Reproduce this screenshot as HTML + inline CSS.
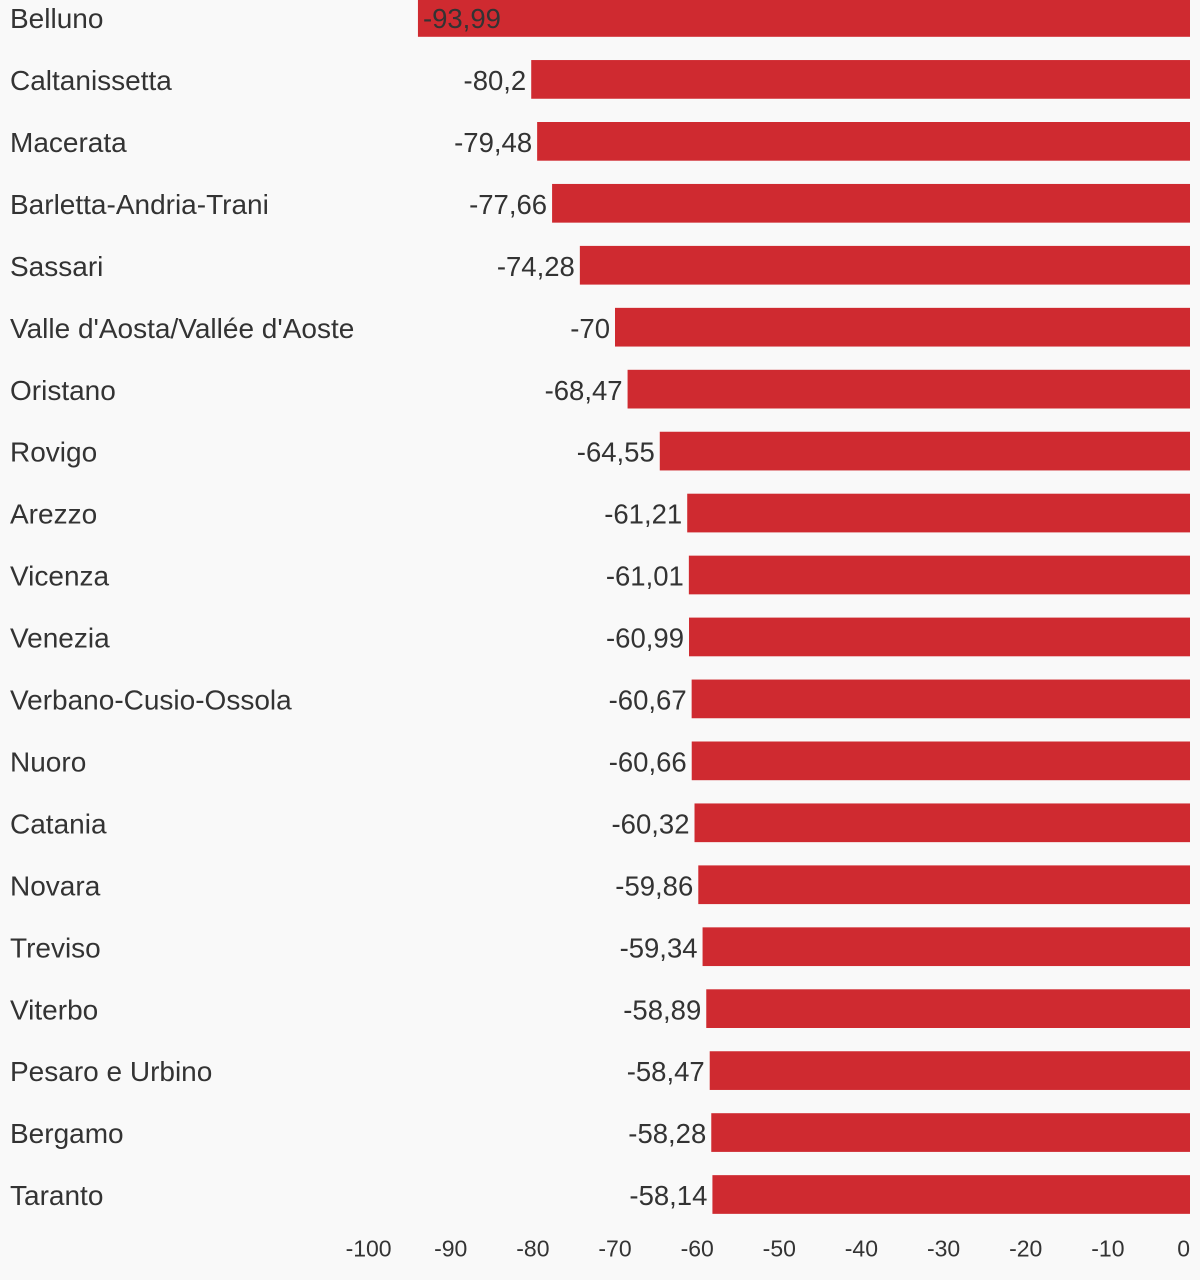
<!DOCTYPE html>
<html>
<head>
<meta charset="utf-8">
<style>
html,body{margin:0;padding:0;background:#f9f9f9;}
svg{display:block;}
text{font-family:"Liberation Sans",Arial,sans-serif;fill:#333;}
</style>
</head>
<body>
<svg width="1200" height="1280" viewBox="0 0 1200 1280" xmlns="http://www.w3.org/2000/svg">
<rect x="0" y="0" width="1200" height="1280" fill="#f9f9f9"/>
<g id="bars" fill="#cf2a30">
<rect x="417.94" y="-1.9" width="772.06" height="38.7"/>
<rect x="531.22" y="60.05" width="658.78" height="38.7"/>
<rect x="537.13" y="122.0" width="652.87" height="38.7"/>
<rect x="552.08" y="183.95" width="637.92" height="38.7"/>
<rect x="579.85" y="245.9" width="610.15" height="38.7"/>
<rect x="615.0" y="307.85" width="575.0" height="38.7"/>
<rect x="627.57" y="369.8" width="562.43" height="38.7"/>
<rect x="659.77" y="431.75" width="530.23" height="38.7"/>
<rect x="687.21" y="493.7" width="502.79" height="38.7"/>
<rect x="688.85" y="555.65" width="501.15" height="38.7"/>
<rect x="689.01" y="617.6" width="500.99" height="38.7"/>
<rect x="691.64" y="679.55" width="498.36" height="38.7"/>
<rect x="691.72" y="741.5" width="498.28" height="38.7"/>
<rect x="694.51" y="803.45" width="495.49" height="38.7"/>
<rect x="698.29" y="865.4" width="491.71" height="38.7"/>
<rect x="702.56" y="927.35" width="487.44" height="38.7"/>
<rect x="706.26" y="989.3" width="483.74" height="38.7"/>
<rect x="709.71" y="1051.25" width="480.29" height="38.7"/>
<rect x="711.27" y="1113.2" width="478.73" height="38.7"/>
<rect x="712.42" y="1175.15" width="477.58" height="38.7"/>
</g>
<g font-size="28" transform="translate(0,1.2)">
<text x="10" y="26.9">Belluno</text>
<text x="10" y="88.85">Caltanissetta</text>
<text x="10" y="150.8">Macerata</text>
<text x="10" y="212.75">Barletta-Andria-Trani</text>
<text x="10" y="274.7">Sassari</text>
<text x="10" y="336.65">Valle d'Aosta/Vallée d'Aoste</text>
<text x="10" y="398.6">Oristano</text>
<text x="10" y="460.55">Rovigo</text>
<text x="10" y="522.5">Arezzo</text>
<text x="10" y="584.45">Vicenza</text>
<text x="10" y="646.4">Venezia</text>
<text x="10" y="708.35">Verbano-Cusio-Ossola</text>
<text x="10" y="770.3">Nuoro</text>
<text x="10" y="832.25">Catania</text>
<text x="10" y="894.2">Novara</text>
<text x="10" y="956.15">Treviso</text>
<text x="10" y="1018.1">Viterbo</text>
<text x="10" y="1080.05">Pesaro e Urbino</text>
<text x="10" y="1142.0">Bergamo</text>
<text x="10" y="1203.95">Taranto</text>
</g>
<g font-size="27.5" text-anchor="end" transform="translate(0,1.2)">
<text x="422.94" y="26.9" text-anchor="start">-93,99</text>
<text x="526.22" y="88.85">-80,2</text>
<text x="532.13" y="150.8">-79,48</text>
<text x="547.08" y="212.75">-77,66</text>
<text x="574.85" y="274.7">-74,28</text>
<text x="610.0" y="336.65">-70</text>
<text x="622.57" y="398.6">-68,47</text>
<text x="654.77" y="460.55">-64,55</text>
<text x="682.21" y="522.5">-61,21</text>
<text x="683.85" y="584.45">-61,01</text>
<text x="684.01" y="646.4">-60,99</text>
<text x="686.64" y="708.35">-60,67</text>
<text x="686.72" y="770.3">-60,66</text>
<text x="689.51" y="832.25">-60,32</text>
<text x="693.29" y="894.2">-59,86</text>
<text x="697.56" y="956.15">-59,34</text>
<text x="701.26" y="1018.1">-58,89</text>
<text x="704.71" y="1080.05">-58,47</text>
<text x="706.27" y="1142.0">-58,28</text>
<text x="707.42" y="1203.95">-58,14</text>
</g>
<g font-size="23" text-anchor="middle">
<text x="368.6" y="1256.5">-100</text>
<text x="450.7" y="1256.5">-90</text>
<text x="532.9" y="1256.5">-80</text>
<text x="615.0" y="1256.5">-70</text>
<text x="697.2" y="1256.5">-60</text>
<text x="779.3" y="1256.5">-50</text>
<text x="861.4" y="1256.5">-40</text>
<text x="943.6" y="1256.5">-30</text>
<text x="1025.7" y="1256.5">-20</text>
<text x="1107.9" y="1256.5">-10</text>
<text x="1190" y="1256.5" text-anchor="end">0</text>
</g>
</svg>
</body>
</html>
